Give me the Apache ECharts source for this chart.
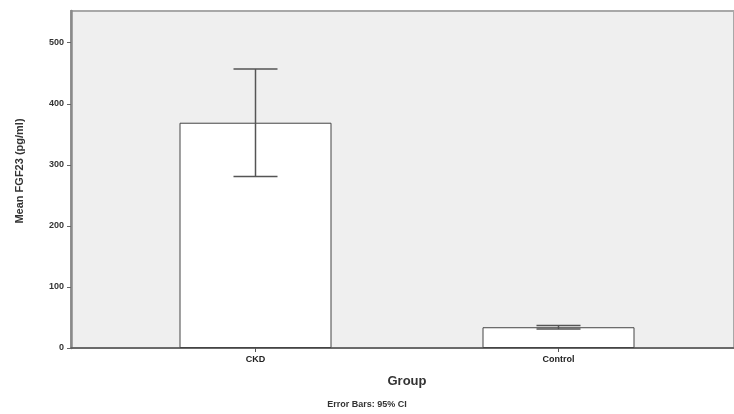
<!DOCTYPE html>
<html>
<head>
<meta charset="utf-8">
<script src="https://cdn.jsdelivr.net/npm/echarts@6/dist/echarts.min.js"></script>
<style>
  html, body { margin: 0; padding: 0; background: #ffffff; }
  #chart { width: 734px; height: 414px; }
</style>
</head>
<body>
<div id="chart"></div>
<script>
// Mean FGF23 by group with 95% confidence intervals
const groups = ['CKD', 'Control'];
const meanFGF23 = [369, 34];
const ciLower = [281, 31];
const ciUpper = [457, 37];
const yTicks = [0, 100, 200, 300, 400, 500];

const Y_MAX = 552;
const FONT = '"Liberation Sans", Arial, sans-serif';

const chart = echarts.init(document.getElementById('chart'));

const errorData = groups.map((g, i) => [i, ciLower[i], ciUpper[i]]);

chart.setOption({
  animation: false,
  backgroundColor: '#ffffff',
  grid: [
    // frame with shaded background and the value axis
    { left: 71, right: -6, top: 11, bottom: 66, show: true,
      backgroundColor: '#efefef', borderColor: '#a8a8a8', borderWidth: 2 },
    // band for the bars
    { left: 104, width: 606, top: 11, bottom: 66 }
  ],
  xAxis: [
    { gridIndex: 0, type: 'value', min: 0, max: 1,
      axisLine: { show: true, onZero: false, lineStyle: { color: '#555', width: 1.5 } },
      axisTick: { show: false }, axisLabel: { show: false }, splitLine: { show: false } },
    { gridIndex: 1, type: 'category', data: groups, boundaryGap: true,
      axisLine: { show: false },
      axisTick: { show: true, alignWithLabel: true, length: 4, lineStyle: { color: '#555' } },
      axisLabel: { color: '#222', fontFamily: FONT, fontSize: 9, fontWeight: 'bold', margin: 7 },
      name: 'Group', nameLocation: 'middle', nameGap: 27,
      nameTextStyle: { color: '#333', fontFamily: FONT, fontSize: 13, fontWeight: 'bold' } }
  ],
  yAxis: [
    { gridIndex: 0, type: 'value', min: 0, max: Y_MAX, interval: 100,
      axisLine: { show: true, lineStyle: { color: '#8a8a8a', width: 2.5 } },
      axisTick: { show: true, length: 4, customValues: yTicks, lineStyle: { color: '#666' } },
      axisLabel: { customValues: yTicks, color: '#333', fontFamily: FONT, fontSize: 9,
                   fontWeight: 'bold', margin: 7 },
      splitLine: { show: false } },
    { gridIndex: 1, type: 'value', min: 0, max: Y_MAX, show: false }
  ],
  series: [
    { type: 'bar', xAxisIndex: 1, yAxisIndex: 1, data: meanFGF23, barWidth: 152,
      itemStyle: { color: '#ffffff', borderColor: '#444', borderWidth: 1 } },
    { type: 'custom', xAxisIndex: 1, yAxisIndex: 1, data: errorData, z: 5,
      renderItem: function (params, api) {
        const x = api.value(0);
        const lo = api.coord([x, api.value(1)]);
        const hi = api.coord([x, api.value(2)]);
        const half = 22;
        const style = { stroke: '#555', lineWidth: 1.5 };
        return { type: 'group', children: [
          { type: 'line', shape: { x1: lo[0], y1: lo[1], x2: hi[0], y2: hi[1] }, style: style },
          { type: 'line', shape: { x1: hi[0] - half, y1: hi[1], x2: hi[0] + half, y2: hi[1] }, style: style },
          { type: 'line', shape: { x1: lo[0] - half, y1: lo[1], x2: lo[0] + half, y2: lo[1] }, style: style }
        ] };
      } }
  ],
  graphic: [
    // value axis title, rotated
    { type: 'text', x: 20, y: 171, rotation: Math.PI / 2,
      style: { text: 'Mean FGF23 (pg/ml)', fill: '#333', font: 'bold 11px ' + FONT,
               align: 'center', verticalAlign: 'middle' } },
    { type: 'text', left: 'center', top: 400,
      style: { text: 'Error Bars: 95% CI', fill: '#333', font: 'bold 9px ' + FONT } }
  ]
});
</script>
</body>
</html>
